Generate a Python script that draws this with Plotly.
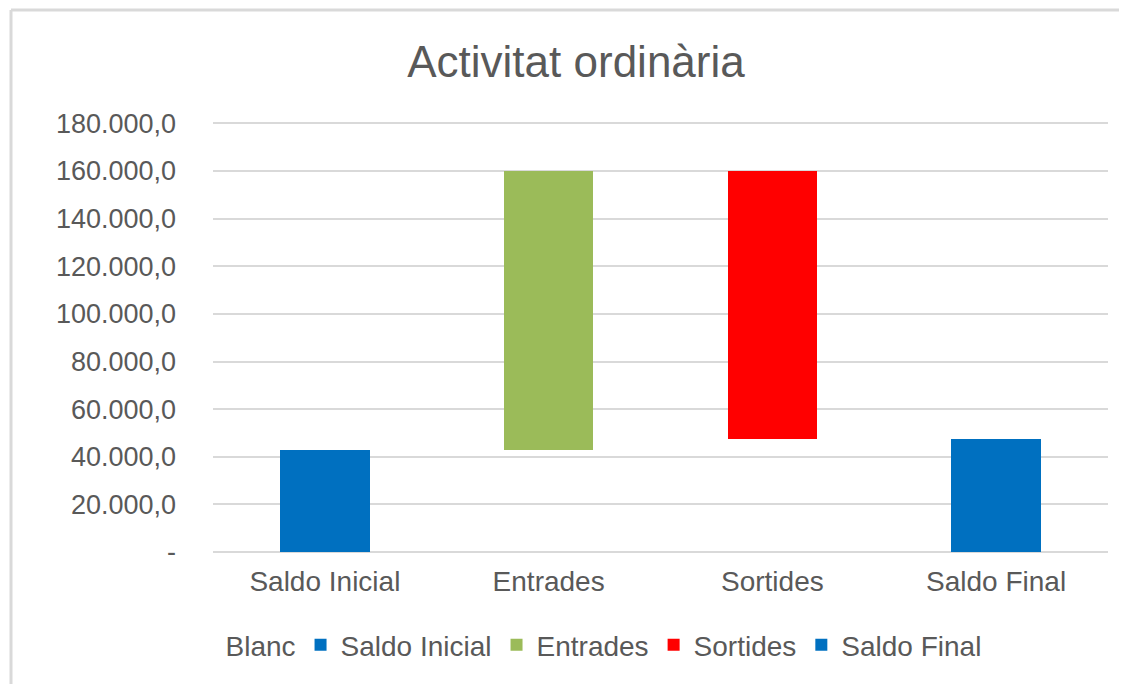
import plotly.graph_objects as go

# Waterfall built from stacked bars: an invisible "Blanc" base plus one series per step.
categories = ["Saldo Inicial", "Entrades", "Sortides", "Saldo Final"]
blanc = [0, 43000, 47400, 0]
saldo_inicial = [43000, None, None, None]
entrades = [None, 116800, None, None]
sortides = [None, None, 112400, None]
saldo_final = [None, None, None, 47400]

tick_vals = [0, 20000, 40000, 60000, 80000, 100000, 120000, 140000, 160000, 180000]
tick_text = ["-", "20.000,0", "40.000,0", "60.000,0", "80.000,0", "100.000,0",
             "120.000,0", "140.000,0", "160.000,0", "180.000,0"]

grey_text = "#595959"
font = "Liberation Sans, Arial, sans-serif"

fig = go.Figure()
fig.add_trace(go.Bar(x=categories, y=blanc, name="Blanc",
                     marker_color="rgba(0,0,0,0)", hoverinfo="skip"))
fig.add_trace(go.Bar(x=categories, y=saldo_inicial, name="Saldo Inicial", marker_color="#0070C0"))
fig.add_trace(go.Bar(x=categories, y=entrades, name="Entrades", marker_color="#9BBB59"))
fig.add_trace(go.Bar(x=categories, y=sortides, name="Sortides", marker_color="#FF0000"))
fig.add_trace(go.Bar(x=categories, y=saldo_final, name="Saldo Final", marker_color="#0070C0"))
fig.update_traces(marker_line_width=0)

# page body has an 8px margin, so positions below are reference px minus 8
L, R, T, B = 205, 27, 113, 140
W, H = 1127, 684
pw, ph = W - L - R, H - T - B

fig.update_layout(
    width=W, height=H,
    barmode="stack", bargap=0.6,
    margin=dict(l=L, r=R, t=T, b=B),
    paper_bgcolor="white", plot_bgcolor="white",
    font=dict(family=font, color=grey_text, size=28),
    title=dict(text="Activitat ordinària", x=568 / W, xref="container", xanchor="center",
               y=1 - 54 / H, yref="container", yanchor="middle",
               font=dict(size=44, color=grey_text, family=font)),
    showlegend=True,
    legend=dict(orientation="h", x=(578 - L) / pw, xanchor="center",
                y=-(637 - (H - B)) / ph, yanchor="middle",
                font=dict(size=28, color=grey_text), traceorder="normal",
                itemwidth=30, bgcolor="rgba(0,0,0,0)"),
    xaxis=dict(showgrid=False, showline=False, ticks="", ticklabelstandoff=10,
               tickfont=dict(size=28, color=grey_text)),
    yaxis=dict(range=[0, 181000], tickvals=tick_vals, ticktext=tick_text,
               showgrid=True, gridcolor="#D9D9D9", gridwidth=2,
               zeroline=True, zerolinecolor="#D9D9D9", zerolinewidth=2,
               showline=False, ticks="", ticklabelstandoff=36,
               tickfont=dict(size=27, color=grey_text)),
    shapes=[
        # chart area border (top and left edges visible in reference)
        dict(type="line", xref="paper", yref="paper",
             x0=(3 - L) / pw, x1=(1127 - L) / pw, y0=(H - B - 2) / ph, y1=(H - B - 2) / ph,
             line=dict(color="#D9D9D9", width=3)),
        dict(type="line", xref="paper", yref="paper",
             x0=(3 - L) / pw, x1=(3 - L) / pw, y0=(H - B - 2) / ph, y1=-B / ph,
             line=dict(color="#D9D9D9", width=3)),
    ],
)

fig.write_html("out.html")
